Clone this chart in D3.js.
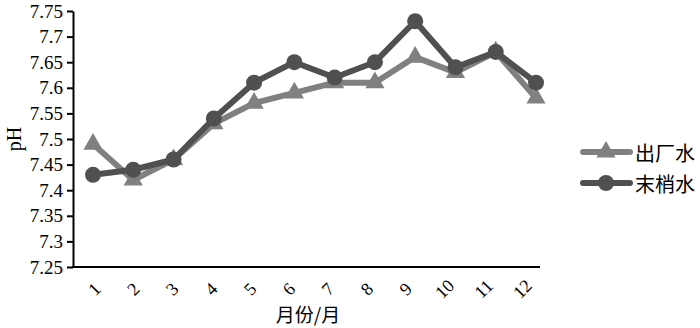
<!DOCTYPE html>
<html>
<head>
<meta charset="utf-8">
<script src="https://cdn.jsdelivr.net/npm/d3@7"></script>
<style>
  body { margin: 0; background: #fff; }
  svg { display: block; }
</style>
</head>
<body>
<div id="chart"></div>
<script>
// pH by month, outlet water vs tap water
var months = ["1", "2", "3", "4", "5", "6", "7", "8", "9", "10", "11", "12"];
var outlet = [7.49, 7.42, 7.46, 7.53, 7.57, 7.59, 7.61, 7.61, 7.66, 7.63, 7.67, 7.58];
var tap = [7.43, 7.44, 7.46, 7.54, 7.61, 7.65, 7.62, 7.65, 7.73, 7.64, 7.67, 7.61];
var yTicks = [7.25, 7.3, 7.35, 7.4, 7.45, 7.5, 7.55, 7.6, 7.65, 7.7, 7.75];
var seriesNames = ["出厂水", "末梢水"];

var w = 700, h = 328;
var serif = "'Liberation Serif', 'DejaVu Serif', serif";
var cjk = "'Noto Sans CJK SC', sans-serif";

var svg = d3.select("#chart").append("svg")
  .attr("width", w)
  .attr("height", h);

var y = d3.scaleLinear().domain([7.25, 7.75]).range([267, 11]);
// labels sit in band centres, the points run a bit wider
var xBand = d3.scaleBand().domain(months).range([73, 540]);
var x = d3.scalePoint().domain(months).range([93, 536]);

// y axis
var yAxis = svg.append("g")
  .attr("transform", "translate(73,0)")
  .call(d3.axisLeft(y).tickValues(yTicks).tickSize(6).tickSizeOuter(0)
    .tickFormat(function(d) { return d3.format("")(+d.toFixed(2)); }));
yAxis.select(".domain").attr("stroke", "#000").attr("stroke-width", 2);
yAxis.selectAll(".tick line").attr("stroke", "#000").attr("stroke-width", 2);
yAxis.selectAll("text")
  .attr("font-family", serif)
  .attr("font-size", 19)
  .attr("fill", "#000")
  .attr("x", -10);

// x axis line
svg.append("line")
  .attr("x1", 72).attr("x2", 540)
  .attr("y1", 267).attr("y2", 267)
  .attr("stroke", "#000").attr("stroke-width", 2);

svg.append("g").selectAll("text")
  .data(months)
  .enter().append("text")
    .attr("transform", function(d) {
      return "translate(" + (xBand(d) + xBand.bandwidth() / 2 + 2) + ",289) rotate(-45)";
    })
    .attr("text-anchor", "middle")
    .attr("dominant-baseline", "central")
    .attr("font-family", serif)
    .attr("font-size", 18)
    .text(function(d) { return d; });

// axis titles
svg.append("text")
  .attr("x", 308).attr("y", 322)
  .attr("text-anchor", "middle")
  .attr("font-family", cjk)
  .attr("font-size", 19)
  .text("月份/月");

svg.append("text")
  .attr("transform", "translate(21,139) rotate(-90)")
  .attr("text-anchor", "middle")
  .attr("font-family", serif)
  .attr("font-size", 20)
  .text("pH");

var line = d3.line()
  .x(function(d, i) { return x(months[i]); })
  .y(function(d) { return y(d); });

var tri = d3.symbol().type(d3.symbolTriangle).size(160);

// outlet water (triangles)
svg.append("path")
  .datum(outlet)
  .attr("d", line)
  .attr("fill", "none")
  .attr("stroke", "#808080")
  .attr("stroke-width", 6)
  .attr("stroke-linejoin", "round");
svg.append("g").selectAll("path")
  .data(outlet)
  .enter().append("path")
    .attr("d", tri)
    .attr("transform", function(d, i) { return "translate(" + x(months[i]) + "," + y(d) + ")"; })
    .attr("fill", "#808080");

// tap water (circles)
svg.append("path")
  .datum(tap)
  .attr("d", line)
  .attr("fill", "none")
  .attr("stroke", "#505050")
  .attr("stroke-width", 6)
  .attr("stroke-linejoin", "round");
svg.append("g").selectAll("circle")
  .data(tap)
  .enter().append("circle")
    .attr("cx", function(d, i) { return x(months[i]); })
    .attr("cy", function(d) { return y(d); })
    .attr("r", 8)
    .attr("fill", "#505050");

// legend
var legend = svg.append("g");
var legColors = ["#808080", "#505050"];
seriesNames.forEach(function(name, i) {
  var ly = 152 + i * 31;
  legend.append("line")
    .attr("x1", 583).attr("x2", 630)
    .attr("y1", ly).attr("y2", ly)
    .attr("stroke", legColors[i]).attr("stroke-width", 6)
    .attr("stroke-linecap", "round");
  if (i === 0) {
    legend.append("path")
      .attr("d", tri)
      .attr("transform", "translate(606," + ly + ")")
      .attr("fill", legColors[i]);
  } else {
    legend.append("circle")
      .attr("cx", 606).attr("cy", ly).attr("r", 8)
      .attr("fill", legColors[i]);
  }
  legend.append("text")
    .attr("x", 635).attr("y", ly)
    .attr("dominant-baseline", "central")
    .attr("font-family", cjk)
    .attr("font-size", 20)
    .text(name);
});
</script>
</body>
</html>
